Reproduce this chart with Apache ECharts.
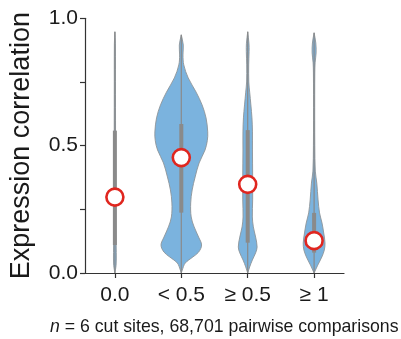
<!DOCTYPE html>
<html>
<head>
<meta charset="utf-8">
<script src="https://cdn.jsdelivr.net/npm/echarts@6/dist/echarts.min.js"></script>
<style>
html,body{margin:0;padding:0;background:#fff;}
#chart{width:401px;height:339px;}
</style>
</head>
<body>
<div id="chart"></div>
<script>
// ---- data ----
const categories = ['0.0', '< 0.5', '\u2265 0.5', '\u2265 1'];
const yTicks = [0, 0.5, 1.0];
const medians = [0.298, 0.453, 0.348, 0.127];
const q1 = [0.11, 0.237, 0.119, 0.08];
const q3 = [0.559, 0.585, 0.561, 0.236];
const minVals = [0, 0, 0, 0];
const maxVals = [0.947, 0.935, 0.947, 0.943];
// density profiles: [value, relative half-width]
const density0 = [[0,0],[0.03,1.2],[0.08,1.4],[0.15,1.1],[0.3,0.9],[0.5,0.7],[0.7,0.6],[0.9,0.5],[0.947,0]];
const density1 = [[0,0],[0.012,1],[0.039,4],[0.063,11.7],[0.082,17.5],[0.11,20.5],[0.141,17.5],[0.181,13],[0.22,10],[0.275,9.5],[0.326,11],[0.377,14],[0.432,18],[0.483,24],[0.52,26.3],[0.554,26.7],[0.609,25],[0.66,21],[0.71,15],[0.766,7],[0.817,2.5],[0.856,1.7],[0.895,2],[0.935,0]];
const density2 = [[0,0],[0.024,2],[0.051,4.7],[0.079,8],[0.102,9.5],[0.141,8],[0.181,5.7],[0.22,4.7],[0.287,5],[0.38,5],[0.483,4.8],[0.554,4.8],[0.609,4.3],[0.66,3.2],[0.71,2],[0.75,1.1],[0.817,1],[0.87,1.4],[0.9,1.3],[0.947,0]];
const density3 = [[0,0],[0.031,3.7],[0.063,7.8],[0.09,10.3],[0.118,11],[0.157,9.7],[0.196,8],[0.236,5.5],[0.287,4],[0.353,2.7],[0.4,1.2],[0.5,0.7],[0.6,0.6],[0.7,0.6],[0.785,0.7],[0.825,1],[0.864,2],[0.903,1.7],[0.943,0]];
const densities = [density0, density1, density2, density3];
const footnoteN = 'n';
const footnoteRest = ' = 6 cut sites, 68,701 pairwise comparisons';

const FONT = '"Liberation Sans", Arial, Helvetica, sans-serif';
const AXIS_COLOR = '#333333';
const chart = echarts.init(document.getElementById('chart'), null, {renderer: 'canvas'});

function renderViolin(params, api) {
  const i = api.value(0);
  const prof = densities[i];
  const pxPerUnit = api.size([1, 0])[0];
  const k = pxPerUnit / 67.1; // relative width -> px
  const right = [], left = [];
  prof.forEach(function (d) {
    const p = api.coord([i, d[0]]);
    right.push([p[0] + d[1] * k, p[1]]);
    left.push([p[0] - d[1] * k, p[1]]);
  });
  const pts = right.concat(left.reverse());
  const top = api.coord([i, maxVals[i]]);
  const bot = api.coord([i, minVals[i]]);
  const b1 = api.coord([i, q3[i]]);
  const b2 = api.coord([i, q1[i]]);
  return {
    type: 'group',
    children: [
      {type: 'polygon', shape: {points: pts, smooth: 0.35},
       style: {fill: '#7bb3de', stroke: '#8d9499', lineWidth: 0.9}},
      {type: 'line', shape: {x1: top[0], y1: top[1], x2: bot[0], y2: bot[1]},
       style: {stroke: '#8a8a8a', lineWidth: 1.2}},
      {type: 'rect', shape: {x: b1[0] - 2, y: b1[1], width: 4, height: b2[1] - b1[1]},
       style: {fill: '#8a8a8a'}}
    ]
  };
}

const option = {
  animation: false,
  backgroundColor: '#ffffff',
  grid: {left: 82, right: 57, top: 18.3, bottom: 66},
  xAxis: {
    type: 'value', min: -0.45, max: 3.45,
    axisLine: {onZero: false, lineStyle: {color: AXIS_COLOR, width: 1.2}},
    axisTick: {show: true, customValues: [0, 1, 2, 3], length: 5, lineStyle: {color: AXIS_COLOR, width: 1.2}},
    axisLabel: {customValues: [0, 1, 2, 3], margin: 12, color: '#1a1a1a', fontSize: 21, fontFamily: FONT,
      formatter: function (v) { return categories[Math.round(v)]; }},
    splitLine: {show: false}
  },
  yAxis: {
    type: 'value', min: 0, max: 1, interval: 0.5, position: 'left',
    name: 'Expression correlation', nameLocation: 'middle', nameGap: 50,
    nameTextStyle: {fontSize: 27, color: '#1a1a1a', fontFamily: FONT},
    axisLine: {show: true, onZero: false, lineStyle: {color: AXIS_COLOR, width: 1.2}},
    axisTick: {show: true, length: 5, lineStyle: {color: AXIS_COLOR, width: 1.2}},
    minorTick: {show: true, splitNumber: 2, length: 5, lineStyle: {color: AXIS_COLOR, width: 1.2}},
    axisLabel: {margin: 7, color: '#1a1a1a', fontSize: 21, fontFamily: FONT,
      formatter: function (v) { return v.toFixed(1); }},
    splitLine: {show: false}
  },
  graphic: [{
    type: 'text', left: 50, top: 318,
    style: {
      text: '{i|' + footnoteN + '}' + footnoteRest,
      font: '17.7px ' + FONT, fill: '#1a1a1a',
      rich: {i: {fontStyle: 'italic', fontSize: 17.7, fontFamily: FONT, fill: '#1a1a1a'}}
    }
  }],
  series: [
    {type: 'custom', renderItem: renderViolin, data: [[0], [1], [2], [3]], z: 2, clip: false},
    {type: 'scatter', data: medians.map(function (m, i) { return [i, m]; }),
     symbol: 'circle', symbolSize: 17, z: 5,
     itemStyle: {color: '#ffffff', borderColor: '#e0261f', borderWidth: 2.6, opacity: 1}}
  ]
};
chart.setOption(option);
</script>
</body>
</html>
